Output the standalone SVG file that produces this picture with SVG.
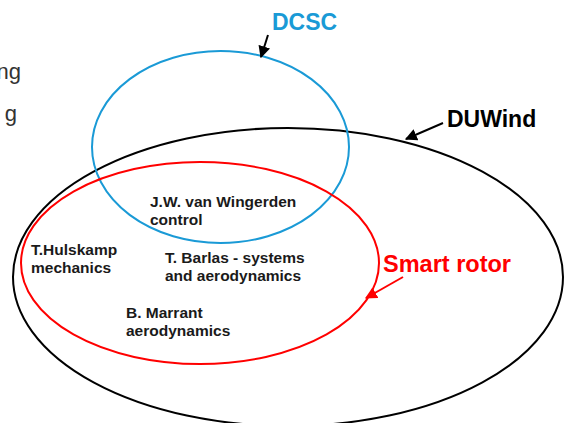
<svg xmlns="http://www.w3.org/2000/svg" width="565" height="423" viewBox="0 0 565 423">
  <defs>
    <marker id="headBlack" viewBox="0 0 10 10" refX="9" refY="5" markerWidth="6" markerHeight="6" orient="auto" markerUnits="strokeWidth">
      <path d="M0,0 L10,5 L0,10 Z" fill="#000"/>
    </marker>
    <marker id="headRed" viewBox="0 0 10 10" refX="9" refY="5" markerWidth="6" markerHeight="6" orient="auto" markerUnits="strokeWidth">
      <path d="M0,0 L10,5 L0,10 Z" fill="#ff0000"/>
    </marker>
  </defs>
  <style>
    .set { fill: none; stroke-width: 2; }
    .lbl { font-family: "Liberation Sans", Arial, sans-serif; font-weight: bold; font-size: 23px; }
    .who { font-family: "Liberation Sans", Arial, sans-serif; font-weight: bold; font-size: 15.5px; fill: #1a1a1a; }
    .bg { font-family: "Liberation Sans", Arial, sans-serif; font-size: 22px; fill: #333; }
    .conn { stroke-width: 2; fill: none; }
  </style>
  <rect width="565" height="423" fill="#fff"/>

  <!-- tail of slide text running in from the left edge -->
  <text class="bg" x="21" y="79" text-anchor="end">ng</text>
  <text class="bg" x="17" y="121" text-anchor="end">g</text>

  <g id="duwind">
    <ellipse class="set" cx="288" cy="277" rx="275" ry="149" stroke="#000"/>
    <text class="lbl" x="447" y="127" fill="#000">DUWind</text>
  </g>
  <g id="dcsc">
    <ellipse class="set" cx="220.5" cy="147" rx="128.5" ry="96" stroke="#1a9ad6"/>
    <text class="lbl" x="272" y="30" fill="#1a9ad6">DCSC</text>
  </g>
  <g id="smart-rotor">
    <ellipse class="set" cx="200" cy="263" rx="179" ry="101" stroke="#ff0000"/>
    <text class="lbl" x="383" y="272" fill="#ff0000" style="font-size:23.5px">Smart rotor</text>
  </g>

  <g id="wingerden">
    <text class="who" x="150" y="207">J.W. van Wingerden</text>
    <text class="who" x="150" y="225">control</text>
  </g>
  <g id="barlas">
    <text class="who" x="165" y="263">T. Barlas - systems</text>
    <text class="who" x="165" y="281">and aerodynamics</text>
  </g>
  <g id="hulskamp">
    <text class="who" x="31" y="255">T.Hulskamp</text>
    <text class="who" x="31" y="273">mechanics</text>
  </g>
  <g id="marrant">
    <text class="who" x="126" y="318">B. Marrant</text>
    <text class="who" x="126" y="336">aerodynamics</text>
  </g>

  <g id="connectors">
    <line class="conn" x1="268" y1="35" x2="261" y2="57" stroke="#000" marker-end="url(#headBlack)"/>
    <line class="conn" x1="443" y1="123" x2="406" y2="139" stroke="#000" marker-end="url(#headBlack)"/>
    <line class="conn" x1="403" y1="277" x2="366" y2="298" stroke="#ff0000" marker-end="url(#headRed)"/>
  </g>
</svg>
